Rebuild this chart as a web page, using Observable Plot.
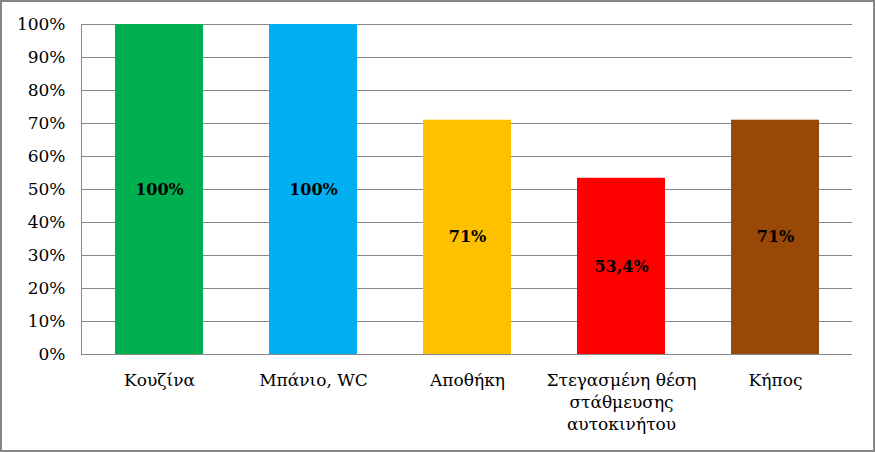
<!DOCTYPE html>
<html><head><meta charset="utf-8">
<script src="https://cdn.jsdelivr.net/npm/d3@7"></script>
<script src="https://cdn.jsdelivr.net/npm/@observablehq/plot@0.6"></script>
<style>
body{margin:0;background:#fff;}
#wrap{position:relative;width:875px;height:452px;overflow:hidden;}
#border{position:absolute;left:0;top:0;width:875px;height:452px;box-sizing:border-box;border:2px solid #868686;pointer-events:none;}
#chart svg text {font-family: 'DejaVu Serif', serif !important;}
</style></head><body><div id="wrap"><div id="chart"></div><div id="border"></div></div>
<script>
const categories = ["Κουζίνα", "Μπάνιο, WC", "Αποθήκη", "Στεγασμένη θέση\nστάθμευσης\nαυτοκινήτου", "Κήπος"];
const values = [1.00, 1.00, 0.71, 0.534, 0.71];
const valueLabels = ["100%", "100%", "71%", "53,4%", "71%"];
const colors = ["#00B050", "#00B0F0", "#FFC000", "#FF0000", "#984807"];
const yTicks = [0, 0.1, 0.2, 0.3, 0.4, 0.5, 0.6, 0.7, 0.8, 0.9, 1.0];

const data = categories.map((c, i) => ({category: c, value: values[i], label: valueLabels[i]}));
const serif = "DejaVu Serif, serif";

const chart = Plot.plot({
  width: 875, height: 452,
  marginLeft: 81, marginRight: 23, marginTop: 24, marginBottom: 98,
  style: {fontSize: "17px", background: "transparent", color: "#000"},
  x: {domain: categories, paddingInner: 0.43, paddingOuter: 0.215, label: null},
  y: {domain: [0, 1], label: null},
  color: {domain: categories, range: colors},
  marks: [
    Plot.ruleY(yTicks, {stroke: "#868686", strokeWidth: 1}),
    Plot.frame({anchor: "left", stroke: "#868686"}),
    Plot.barY(data, {x: "category", y: "value", fill: "category"}),
    Plot.text(data, {x: "category", y: d => d.value / 2, text: "label", fontWeight: "bold", fontSize: 16, fontFamily: serif, fill: "#000"}),
    Plot.axisY(yTicks, {tickSize: 0, tickPadding: 16, tickFormat: d3.format(".0%"), label: null, fill: "#000", fontFamily: serif}),
    Plot.axisX({tickSize: 0, tickPadding: 16, lineHeight: 1.3, label: null, fill: "#000", fontFamily: serif})
  ]
});
document.getElementById("chart").appendChild(chart);
</script></body></html>
